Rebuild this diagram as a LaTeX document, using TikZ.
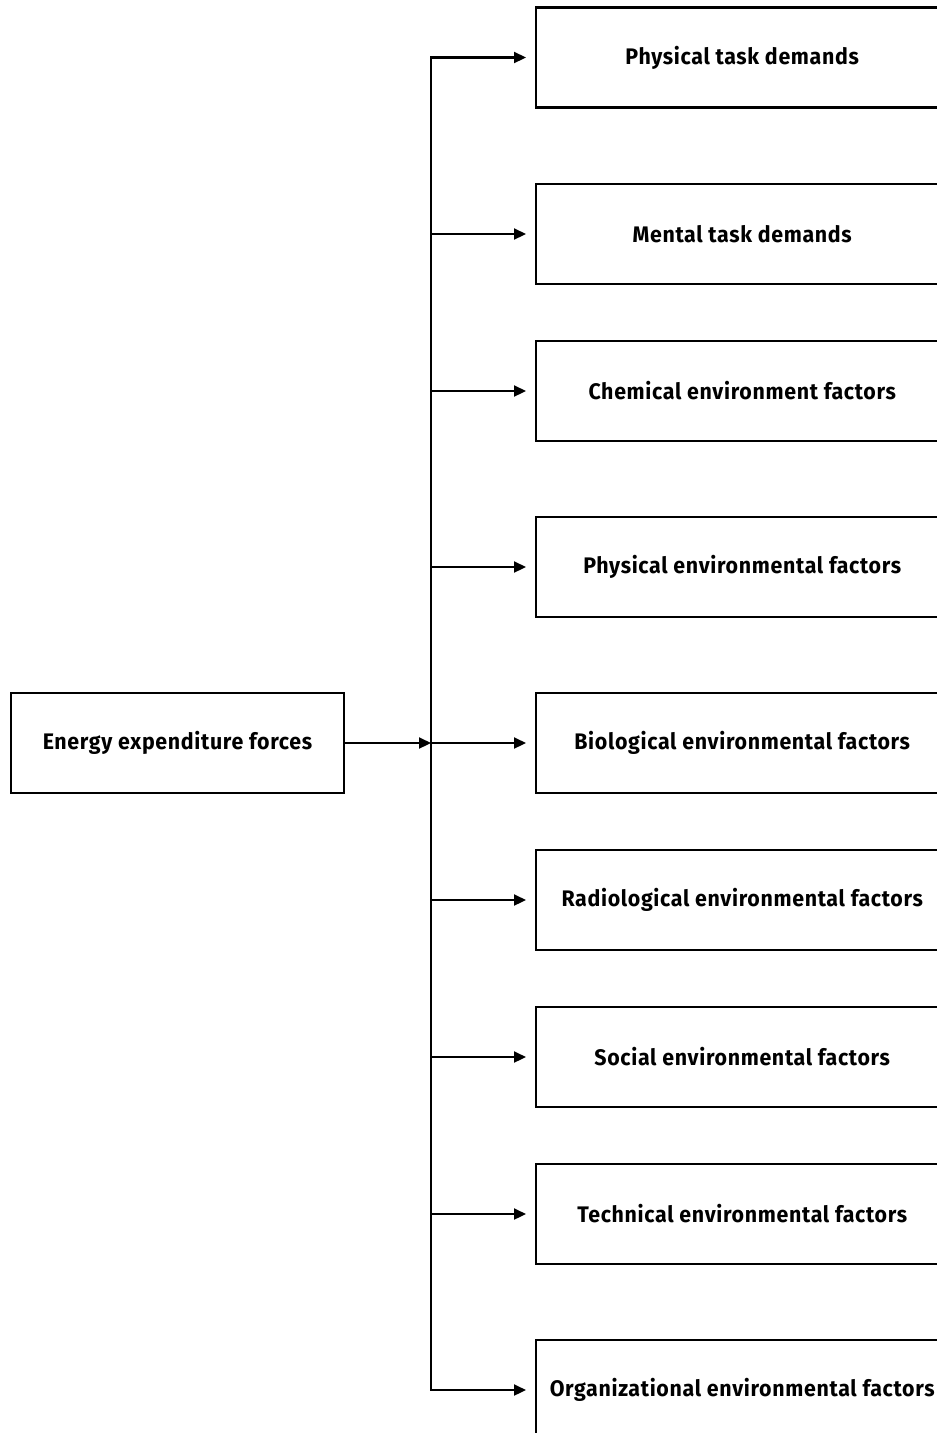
\documentclass[tikz,border=0pt]{standalone}
\usepackage{fontspec}
\setmainfont{Fira Sans}[BoldFont={Fira Sans Bold},LetterSpace=3,FakeStretch=0.95]
\usetikzlibrary{arrows.meta}
\begin{document}
\begin{tikzpicture}[x=1pt,y=-1pt,
  box/.style={draw=black,line width=2.4pt,rectangle,minimum height=100pt,
    inner sep=0pt,font=\bfseries\fontsize{22.5}{25}\selectfont},
  srcbox/.style={box,minimum width=333pt},
  factor/.style={box,minimum width=412pt,anchor=west},
  link/.style={draw=black,line width=2.2pt},
  arr/.style={link,-{Triangle[length=12pt,width=11pt]}}]
\useasboundingbox (0,0) rectangle (937,1433);
\clip (0,0) rectangle (937,1433);
\fill[white] (0,0) rectangle (937,1433);

\node[srcbox] (src) at (177.5,743) {Energy expenditure forces};

\node[factor] (f1) at (535,57.5) {Physical task demands};
\node[factor] (f2) at (535,234) {Mental task demands};
\node[factor] (f3) at (535,391) {Chemical environment factors};
\node[factor] (f4) at (535,567) {Physical environmental factors};
\node[factor] (f5) at (535,743) {Biological environmental factors};
\node[factor] (f6) at (535,900) {Radiological environmental factors};
\node[factor] (f7) at (535,1057) {Social environmental factors};
\node[factor] (f8) at (535,1214) {Technical environmental factors};
\node[factor] (f9) at (535,1390) {Organizational environmental factors};

% trunk line
\coordinate (top) at (431,57.5);
\coordinate (bot) at (431,1390);
\coordinate (mid) at (431,743);
\draw[link,line cap=rect] (top) -- (bot);
\draw[arr] (src.east) -- (mid);

\foreach \i in {1,...,9}{
  \draw[arr] (f\i.west -| top) -- ([xshift=-9pt]f\i.west);
}
\end{tikzpicture}
\end{document}
